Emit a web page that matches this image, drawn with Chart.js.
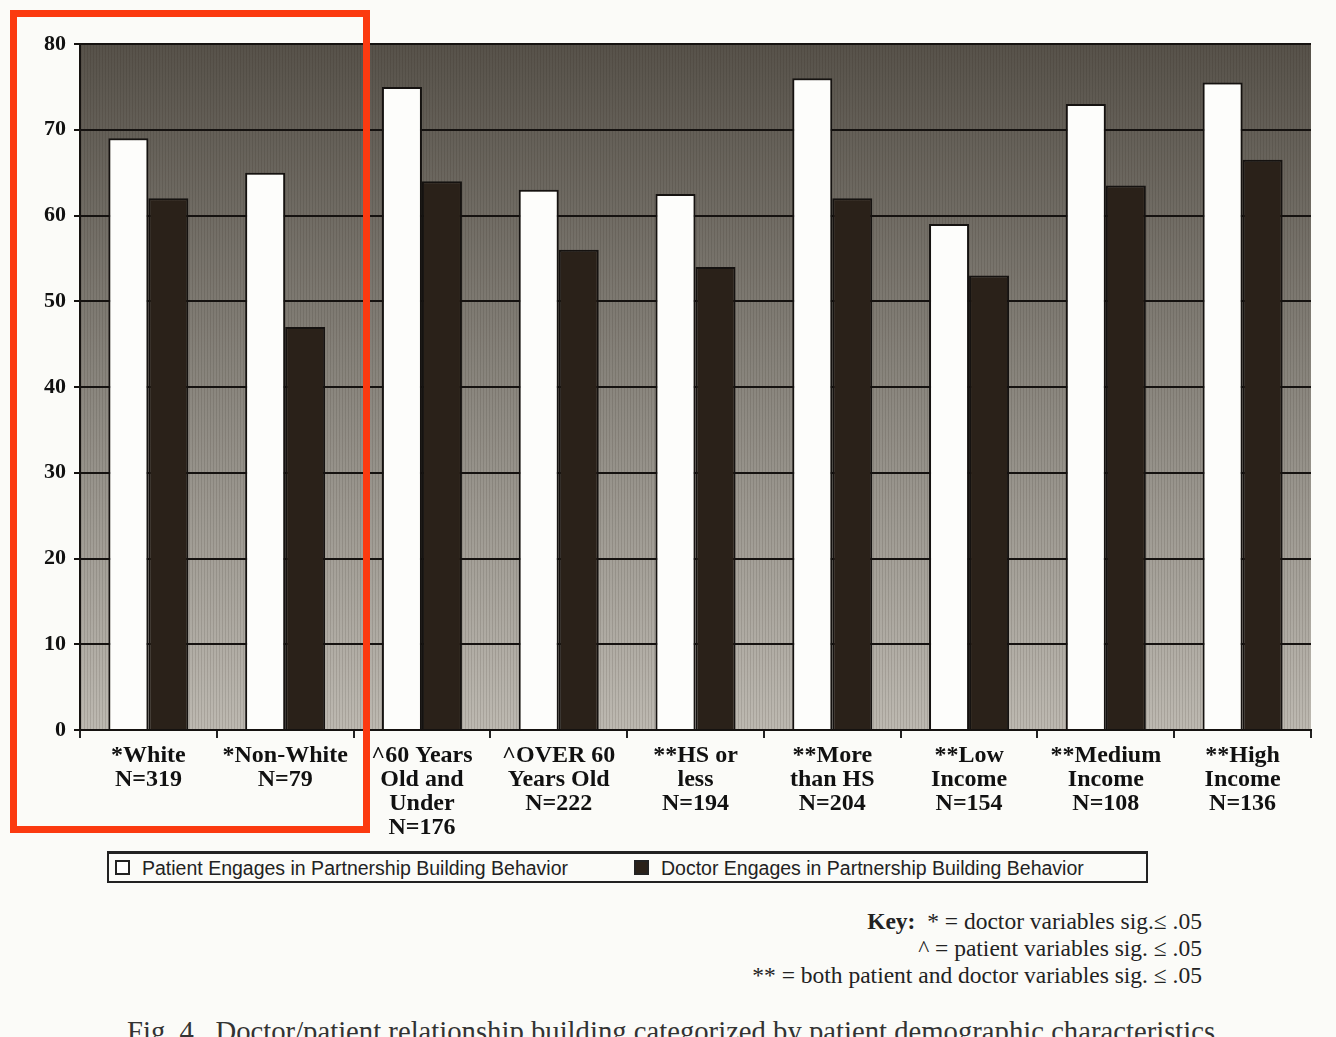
<!DOCTYPE html>
<html lang="en">

<head>
    <meta charset="UTF-8">
    <title>Fig. 4 Doctor/patient relationship building</title>
    <script src="https://cdn.jsdelivr.net/npm/chart.js"></script>
    <style>
        body { margin: 0; background: #fbfbf8; }
        #page { position: relative; width: 1336px; height: 1037px; overflow: hidden; }
        #chartBox { position: absolute; left: 0; top: 0; width: 1336px; height: 850px; }
        #legend {
            position: absolute; left: 107px; top: 851px; width: 1041px; height: 32px;
            box-sizing: border-box; border: 2px solid #222; border-top-width: 3px;
            font-family: "Liberation Sans", sans-serif; font-size: 19.5px; color: #222;
        }
        .item { position: absolute; top: 3px; white-space: nowrap; }
        .sq { display: inline-block; width: 11px; height: 11px; border: 2px solid #222; margin-right: 12px; vertical-align: 0px; }
        #key {
            position: absolute; right: 134px; top: 908px; text-align: right;
            font-family: "Liberation Serif", serif; font-size: 23.5px; line-height: 27px; color: #222;
        }
        #caption {
            position: absolute; left: 127px; top: 1015px; white-space: nowrap;
            font-family: "Liberation Serif", serif; font-size: 28.7px; color: #333;
        }
        #mark {
            position: absolute; left: 10px; top: 10px; width: 360px; height: 823px;
            box-sizing: border-box; border: 7px solid #fb3a10; z-index: 5;
        }
    </style>
</head>

<body>
    <div id="page">
        <div id="chartBox"><canvas id="relChart"></canvas></div>
        <div id="legend">
            <span class="item" style="left: 6px;"><span class="sq" style="background:#fff;"></span>Patient Engages in Partnership Building Behavior</span>
            <span class="item" style="left: 525px;"><span class="sq" style="background:#2a2119;"></span>Doctor Engages in Partnership Building Behavior</span>
        </div>
        <div id="key">
            <b>Key:</b>&nbsp; * = doctor variables sig.≤ .05<br>
            ^ = patient variables sig. ≤ .05<br>
            ** = both patient and doctor variables sig. ≤ .05
        </div>
        <div id="caption">Fig. 4.&nbsp; Doctor/patient relationship building categorized by patient demographic characteristics.</div>
        <div id="mark"></div>
    </div>
    <script>
        const categories = [
            ['*White', 'N=319'],
            ['*Non-White', 'N=79'],
            ['^60 Years', 'Old and', 'Under', 'N=176'],
            ['^OVER 60', 'Years Old', 'N=222'],
            ['**HS or', 'less', 'N=194'],
            ['**More', 'than HS', 'N=204'],
            ['**Low', 'Income', 'N=154'],
            ['**Medium', 'Income', 'N=108'],
            ['**High', 'Income', 'N=136']
        ];
        const patientValues = [69, 65, 75, 63, 62.5, 76, 59, 73, 75.5];
        const doctorValues = [62, 47, 64, 56, 54, 62, 53, 63.5, 66.5];
        const seriesNames = ['Patient Engages in Partnership Building Behavior', 'Doctor Engages in Partnership Building Behavior'];

        // shaded plot background, dark at the top and lighter at the bottom
        const plotShade = {
            id: 'plotShade',
            beforeDraw(chart) {
                const { ctx, chartArea: a } = chart;
                const g = ctx.createLinearGradient(0, a.top, 0, a.bottom);
                g.addColorStop(0, '#57524a');
                g.addColorStop(0.5, '#8a867e');
                g.addColorStop(1, '#bdb9b1');
                ctx.save();
                ctx.fillStyle = g;
                ctx.fillRect(a.left, a.top, a.right - a.left, a.bottom - a.top);
                ctx.strokeStyle = 'rgba(30,25,20,0.12)';
                ctx.lineWidth = 1;
                ctx.beginPath();
                for (let x = a.left + 1.5; x < a.right; x += 3) {
                    ctx.moveTo(x, a.top);
                    ctx.lineTo(x, a.bottom);
                }
                ctx.stroke();
                ctx.restore();
            }
        };

        const ctx = document.getElementById('relChart').getContext('2d');
        new Chart(ctx, {
            type: 'bar',
            data: {
                labels: categories,
                datasets: [
                    {
                        label: seriesNames[0],
                        data: patientValues,
                        backgroundColor: '#fdfdfb',
                        borderColor: '#151210',
                        borderWidth: 2
                    },
                    {
                        label: seriesNames[1],
                        data: doctorValues,
                        backgroundColor: '#2a2119',
                        borderColor: '#151210',
                        borderWidth: 2
                    }
                ]
            },
            options: {
                responsive: true,
                maintainAspectRatio: false,
                animation: false,
                categoryPercentage: 0.585,
                barPercentage: 1.0,
                layout: { padding: { top: 44, right: 25, bottom: 10, left: 0 } },
                plugins: {
                    legend: { display: false },
                    tooltip: { enabled: false }
                },
                scales: {
                    x: {
                        afterFit: s => { s.height = 110; },
                        grid: {
                            display: true,
                            drawOnChartArea: false,
                            color: '#222',
                            lineWidth: 2,
                            tickLength: 8
                        },
                        border: { display: true, color: '#151210', width: 2 },
                        ticks: {
                            color: '#111',
                            padding: 6,
                            maxRotation: 0,
                            autoSkip: false,
                            font: { family: 'Liberation Serif', weight: 'bold', size: 24, lineHeight: 1.0 }
                        }
                    },
                    y: {
                        min: 0,
                        max: 80,
                        afterFit: s => { s.width = 80; },
                        grid: {
                            color: '#151210',
                            lineWidth: 2,
                            tickLength: 6
                        },
                        border: { display: true, color: '#151210', width: 2 },
                        ticks: {
                            stepSize: 10,
                            color: '#111',
                            padding: 8,
                            font: { family: 'Liberation Serif', weight: 'bold', size: 22 }
                        }
                    }
                }
            },
            plugins: [plotShade]
        });
    </script>
</body>

</html>
